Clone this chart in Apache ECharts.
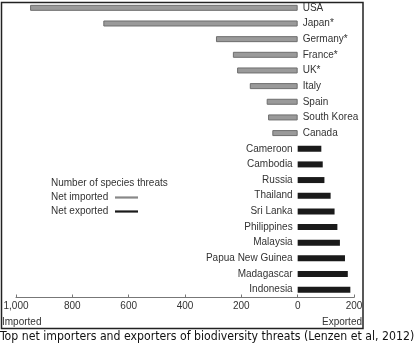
<!DOCTYPE html>
<html>
<head>
<meta charset="utf-8">
<script src="https://cdn.jsdelivr.net/npm/echarts@6/dist/echarts.min.js"></script>
<style>
html,body{margin:0;padding:0;background:#fff;}
#chart{width:420px;height:357px;}
</style>
</head>
<body>
<div id="chart"></div>
<script>
var categories = ['USA','Japan*','Germany*','France*','UK*','Italy','Spain','South Korea','Canada','Cameroon','Cambodia','Russia','Thailand','Sri Lanka','Philippines','Malaysia','Papua New Guinea','Madagascar','Indonesia'];
var netImported = [950,690,290,230,215,170,110,105,90,null,null,null,null,null,null,null,null,null,null];
var netExported = [null,null,null,null,null,null,null,null,null,84,89,95,117,131,141,150,168,178,187];
var xTicks = [-1000,-800,-600,-400,-200,0,200];

var FONT = '"Liberation Sans", Arial, sans-serif';
var chart = echarts.init(document.getElementById('chart'), null, {renderer:'canvas'});

function fmt(v){
  var a = Math.abs(v);
  return a >= 1000 ? String(a).replace(/(\d)(?=(\d{3})+$)/g,'$1,') : String(a);
}

var option = {
  animation:false,
  backgroundColor:'#fff',
  grid:{left:16, right:66, top:-1, bottom:59.5, containLabel:false},
  xAxis:{
    type:'value', min:xTicks[0], max:xTicks[xTicks.length-1], interval:200,
    axisLine:{show:true, lineStyle:{color:'#777', width:1}},
    axisTick:{show:true, inside:true, length:3, lineStyle:{color:'#777'}},
    splitLine:{show:false},
    axisLabel:{formatter:fmt, color:'#333', fontSize:10, fontFamily:FONT, margin:4}
  },
  yAxis:{
    type:'category', data:categories, inverse:true,
    axisLine:{show:false}, axisTick:{show:false}, axisLabel:{show:false}, splitLine:{show:false}
  },
  series:[
    {
      name:'Net imported', type:'bar', barWidth:6, barGap:'-100%',
      data:netImported.map(function(v){return v==null?'-':-v;}),
      itemStyle:{color:'#9a9a9a', borderColor:'#6e6e6e', borderWidth:1},
      label:{show:true, position:'right', distance:5, color:'#333', fontSize:10, fontFamily:FONT,
        formatter:function(p){return p.name;}}
    },
    {
      name:'Net exported', type:'bar', barWidth:6, barGap:'-100%',
      data:netExported.map(function(v){return v==null?'-':v;}),
      itemStyle:{color:'#1a1a1a'},
      label:{show:true, position:'left', distance:5, color:'#333', fontSize:10, fontFamily:FONT,
        formatter:function(p){return p.name;}}
    }
  ],
  graphic:[
    {type:'rect', shape:{x:1.5, y:2.5, width:361.5, height:326}, style:{fill:null, stroke:'#222', lineWidth:1.5}, z:100},
    {type:'text', left:51, top:178, style:{text:'Number of species threats', fill:'#333', font:'10px '+FONT}},
    {type:'text', left:51, top:192, style:{text:'Net imported', fill:'#333', font:'10px '+FONT}},
    {type:'text', left:51, top:206, style:{text:'Net exported', fill:'#333', font:'10px '+FONT}},
    {type:'line', shape:{x1:115, y1:197.5, x2:138, y2:197.5}, style:{stroke:'#888', lineWidth:2.2}},
    {type:'line', shape:{x1:115, y1:211.5, x2:138, y2:211.5}, style:{stroke:'#1a1a1a', lineWidth:2.2}},
    {type:'text', left:2, top:317, style:{text:'Imported', fill:'#333', font:'10px '+FONT}},
    {type:'text', right:58, top:317, style:{text:'Exported', fill:'#333', font:'10px '+FONT, textAlign:'right'}},
    {type:'text', left:0, top:331, style:{text:'Top net importers and exporters of biodiversity threats (Lenzen et al, 2012)', fill:'#111', font:'12.2px "Liberation Sans Narrow", "DejaVu Sans Condensed", sans-serif'}}
  ]
};
chart.setOption(option);
</script>
</body>
</html>
